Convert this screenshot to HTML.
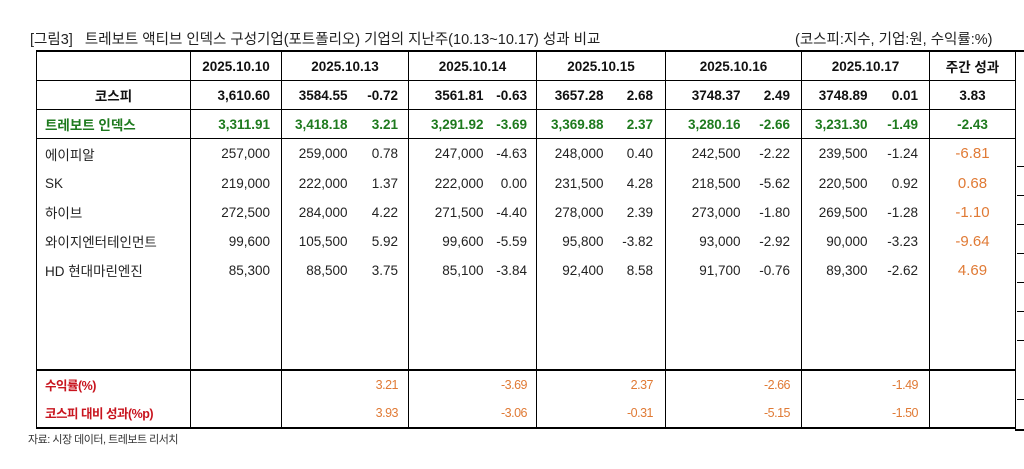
<!DOCTYPE html>
<html><head><meta charset="utf-8"><style>
body{margin:0;width:1024px;height:469px;background:#fff;position:relative;overflow:hidden;font-family:"Liberation Sans","Noto Sans CJK KR","NanumGothic",sans-serif;color:#222}
.t{position:absolute;font-size:14.5px;top:28px}
table{position:absolute;left:36px;top:50px;border-collapse:collapse;table-layout:fixed;font-size:13.5px}
td{padding:0;white-space:nowrap;text-align:right}
.b{font-weight:bold;color:#111}
.g{font-weight:bold;color:#1e7a1e}
.o{color:#e07a35}
.r{color:#c8141e;font-weight:bold;font-size:12.5px}
.bl{border-left:1.5px solid #000}
tr.h td{border-bottom:1.5px solid #000;height:28px}
tr.top td{border-top:2px solid #000}
.c{text-align:center}
.lab{text-align:left;padding-left:8px}
.sm{font-size:12.5px;letter-spacing:-0.5px}
</style></head><body>
<div class="t" style="left:30px">[그림3]&nbsp;&nbsp; 트레보트 액티브 인덱스 구성기업(포트폴리오) 기업의 지난주(10.13~10.17) 성과 비교</div>
<div class="t" style="left:795px">(코스피:지수, 기업:원, 수익률:%)</div>
<div style="position:absolute;left:1015px;top:50px;width:9px;height:377px;border-top:2px solid #000;border-bottom:2px solid #000"></div>
<div style="position:absolute;left:1017px;top:166px;width:7px;height:1px;background:#000"></div>
<div style="position:absolute;left:1017px;top:195px;width:7px;height:1px;background:#000"></div>
<div style="position:absolute;left:1017px;top:224px;width:7px;height:1px;background:#000"></div>
<div style="position:absolute;left:1017px;top:253px;width:7px;height:1px;background:#000"></div>
<div style="position:absolute;left:1017px;top:282px;width:7px;height:1px;background:#000"></div>
<div style="position:absolute;left:1017px;top:311px;width:7px;height:1px;background:#000"></div>
<div style="position:absolute;left:1017px;top:340px;width:7px;height:1px;background:#000"></div>
<div style="position:absolute;left:1017px;top:399px;width:7px;height:1px;background:#000"></div>
<table>
<colgroup><col style="width:154px"><col style="width:91px"><col style="width:74px"><col style="width:53px"><col style="width:82px"><col style="width:46px"><col style="width:76px"><col style="width:53px"><col style="width:83px"><col style="width:53px"><col style="width:74px"><col style="width:54px"><col style="width:86px"></colgroup>
<tr class="h top b"><td class="bl"></td><td class="bl c">2025.10.10</td><td class="bl c" colspan="2">2025.10.13</td><td class="bl c" colspan="2">2025.10.14</td><td class="bl c" colspan="2">2025.10.15</td><td class="bl c" colspan="2">2025.10.16</td><td class="bl c" colspan="2">2025.10.17</td><td class="bl c" style="border-right:1.5px solid #000">주간 성과</td></tr>
<tr class="h b"><td class="bl c">코스피</td><td class="bl" style="padding-right:11px">3,610.60</td><td class="bl" style="padding-right:8px">3584.55</td><td style="padding-right:10px">-0.72</td><td class="bl" style="padding-right:7px">3561.81</td><td style="padding-right:9px">-0.63</td><td class="bl" style="padding-right:9px">3657.28</td><td style="padding-right:12px">2.68</td><td class="bl" style="padding-right:8px">3748.37</td><td style="padding-right:11px">2.49</td><td class="bl" style="padding-right:8px">3748.89</td><td style="padding-right:11px">0.01</td><td class="bl c" style="border-right:1.5px solid #000">3.83</td></tr>
<tr class="h g"><td class="bl lab">트레보트 인덱스</td><td class="bl" style="padding-right:11px">3,311.91</td><td class="bl" style="padding-right:8px">3,418.18</td><td style="padding-right:10px">3.21</td><td class="bl" style="padding-right:7px">3,291.92</td><td style="padding-right:9px">-3.69</td><td class="bl" style="padding-right:9px">3,369.88</td><td style="padding-right:12px">2.37</td><td class="bl" style="padding-right:8px">3,280.16</td><td style="padding-right:11px">-2.66</td><td class="bl" style="padding-right:8px">3,231.30</td><td style="padding-right:11px">-1.49</td><td class="bl c" style="border-right:1.5px solid #000">-2.43</td></tr>
<tr style="height:30px"><td class="bl lab">에이피알</td><td class="bl" style="padding-right:11px">257,000</td><td class="bl" style="padding-right:8px">259,000</td><td style="padding-right:10px">0.78</td><td class="bl" style="padding-right:7px">247,000</td><td style="padding-right:9px">-4.63</td><td class="bl" style="padding-right:9px">248,000</td><td style="padding-right:12px">0.40</td><td class="bl" style="padding-right:8px">242,500</td><td style="padding-right:11px">-2.22</td><td class="bl" style="padding-right:8px">239,500</td><td style="padding-right:11px">-1.24</td><td class="bl c o" style="border-right:1.5px solid #000;font-size:15px">-6.81</td></tr>
<tr style="height:29px"><td class="bl lab">SK</td><td class="bl" style="padding-right:11px">219,000</td><td class="bl" style="padding-right:8px">222,000</td><td style="padding-right:10px">1.37</td><td class="bl" style="padding-right:7px">222,000</td><td style="padding-right:9px">0.00</td><td class="bl" style="padding-right:9px">231,500</td><td style="padding-right:12px">4.28</td><td class="bl" style="padding-right:8px">218,500</td><td style="padding-right:11px">-5.62</td><td class="bl" style="padding-right:8px">220,500</td><td style="padding-right:11px">0.92</td><td class="bl c o" style="border-right:1.5px solid #000;font-size:15px">0.68</td></tr>
<tr style="height:29px"><td class="bl lab">하이브</td><td class="bl" style="padding-right:11px">272,500</td><td class="bl" style="padding-right:8px">284,000</td><td style="padding-right:10px">4.22</td><td class="bl" style="padding-right:7px">271,500</td><td style="padding-right:9px">-4.40</td><td class="bl" style="padding-right:9px">278,000</td><td style="padding-right:12px">2.39</td><td class="bl" style="padding-right:8px">273,000</td><td style="padding-right:11px">-1.80</td><td class="bl" style="padding-right:8px">269,500</td><td style="padding-right:11px">-1.28</td><td class="bl c o" style="border-right:1.5px solid #000;font-size:15px">-1.10</td></tr>
<tr style="height:29px"><td class="bl lab">와이지엔터테인먼트</td><td class="bl" style="padding-right:11px">99,600</td><td class="bl" style="padding-right:8px">105,500</td><td style="padding-right:10px">5.92</td><td class="bl" style="padding-right:7px">99,600</td><td style="padding-right:9px">-5.59</td><td class="bl" style="padding-right:9px">95,800</td><td style="padding-right:12px">-3.82</td><td class="bl" style="padding-right:8px">93,000</td><td style="padding-right:11px">-2.92</td><td class="bl" style="padding-right:8px">90,000</td><td style="padding-right:11px">-3.23</td><td class="bl c o" style="border-right:1.5px solid #000;font-size:15px">-9.64</td></tr>
<tr style="height:29px"><td class="bl lab">HD 현대마린엔진</td><td class="bl" style="padding-right:11px">85,300</td><td class="bl" style="padding-right:8px">88,500</td><td style="padding-right:10px">3.75</td><td class="bl" style="padding-right:7px">85,100</td><td style="padding-right:9px">-3.84</td><td class="bl" style="padding-right:9px">92,400</td><td style="padding-right:12px">8.58</td><td class="bl" style="padding-right:8px">91,700</td><td style="padding-right:11px">-0.76</td><td class="bl" style="padding-right:8px">89,300</td><td style="padding-right:11px">-2.62</td><td class="bl c o" style="border-right:1.5px solid #000;font-size:15px">4.69</td></tr>
<tr style="height:85px"><td class="bl"></td><td class="bl"></td><td class="bl"></td><td></td><td class="bl"></td><td></td><td class="bl"></td><td></td><td class="bl"></td><td></td><td class="bl"></td><td></td><td class="bl" style="border-right:1.5px solid #000"></td></tr>
<tr class="top o sm" style="height:29px"><td class="bl lab r">수익률(%)</td><td class="bl"></td><td class="bl"></td><td style="padding-right:10px">3.21</td><td class="bl"></td><td style="padding-right:9px">-3.69</td><td class="bl"></td><td style="padding-right:12px">2.37</td><td class="bl"></td><td style="padding-right:11px">-2.66</td><td class="bl"></td><td style="padding-right:11px">-1.49</td><td class="bl" style="border-right:1.5px solid #000"></td></tr>
<tr class="o sm" style="height:29px;border-bottom:2px solid #000"><td class="bl lab r">코스피 대비 성과(%p)</td><td class="bl"></td><td class="bl"></td><td style="padding-right:10px">3.93</td><td class="bl"></td><td style="padding-right:9px">-3.06</td><td class="bl"></td><td style="padding-right:12px">-0.31</td><td class="bl"></td><td style="padding-right:11px">-5.15</td><td class="bl"></td><td style="padding-right:11px">-1.50</td><td class="bl" style="border-right:1.5px solid #000"></td></tr>
</table>
<div style="position:absolute;left:28px;top:431px;font-size:11px;color:#333;letter-spacing:-0.5px">자료: 시장 데이터, 트레보트 리서치</div>
</body></html>
